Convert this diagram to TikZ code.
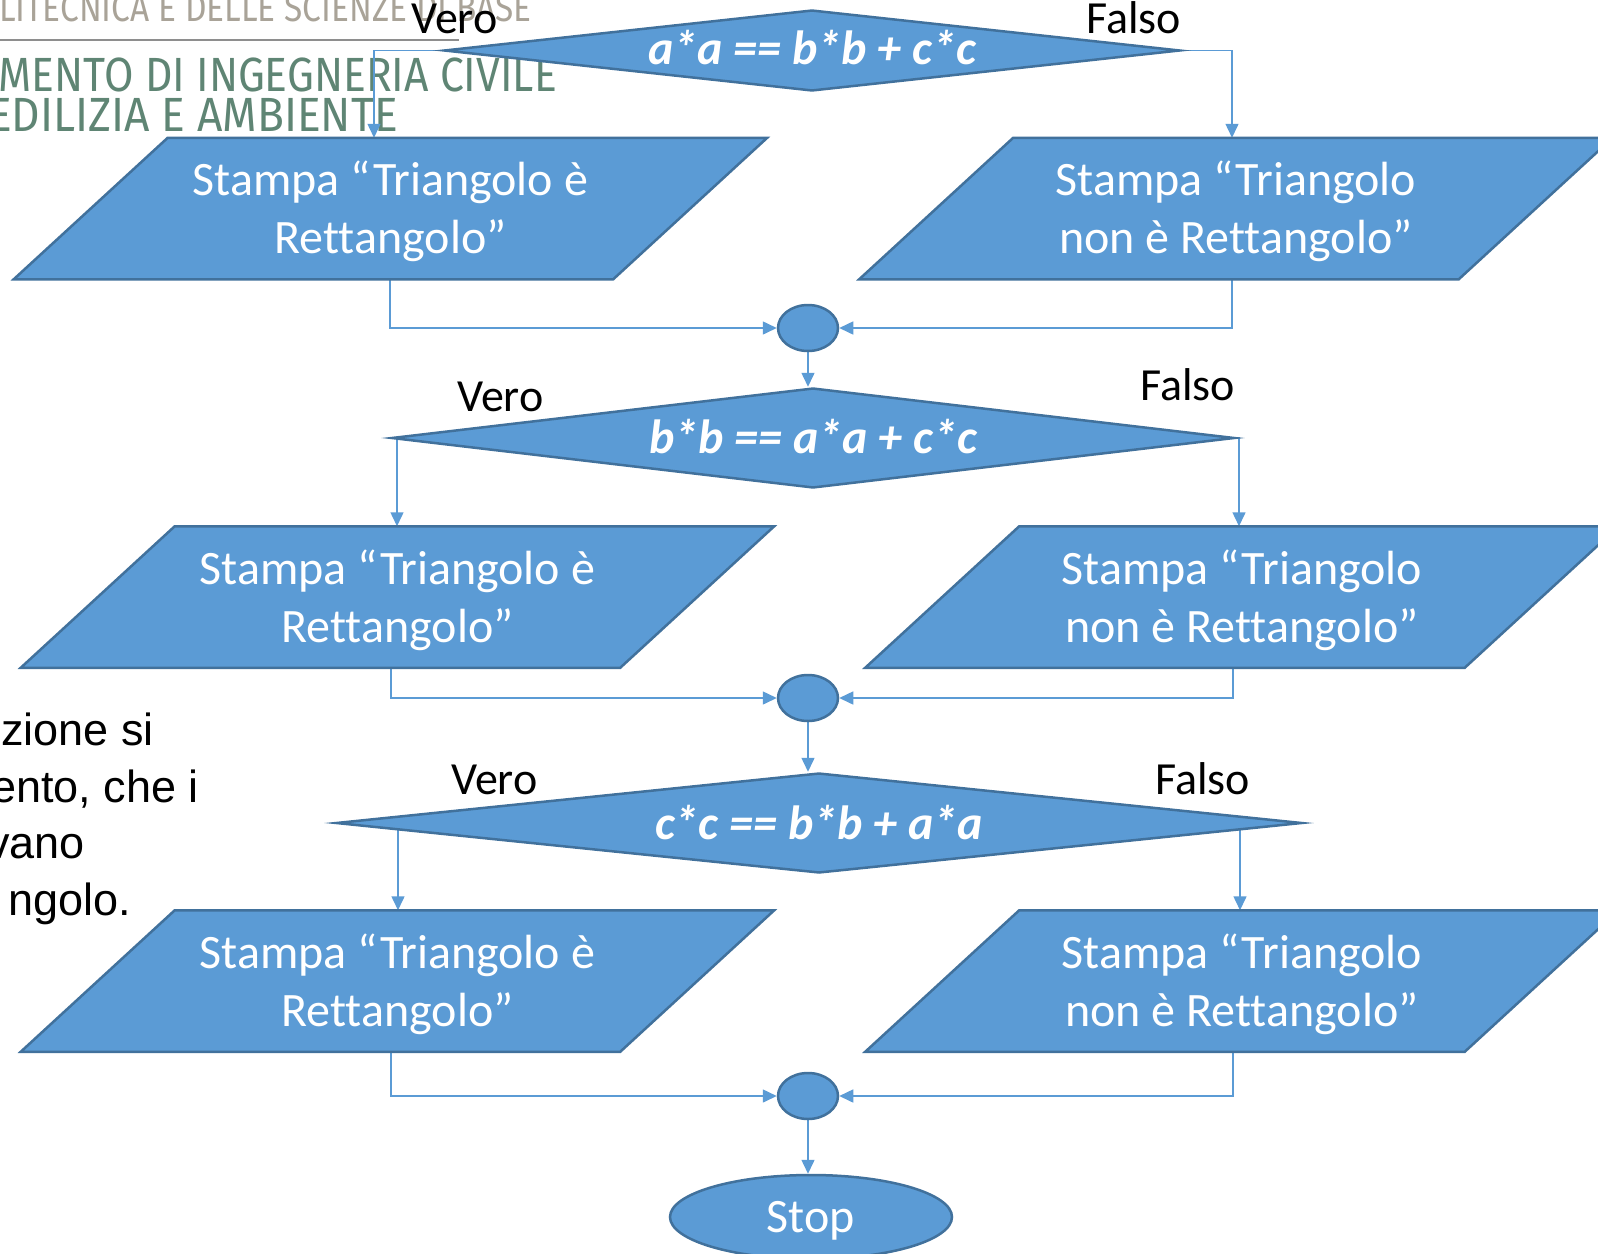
\documentclass[tikz,border=0pt]{standalone}
\usepackage{fontspec}
\usepackage{graphicx}
\setmainfont{Carlito}[Ligatures=NoCommon]
\newfontfamily\arialf{Liberation Sans}
\newfontfamily\headf{Fira Sans}
\usetikzlibrary{shapes.geometric,arrows.meta}
\definecolor{boxfill}{HTML}{5B9BD5}
\definecolor{boxline}{HTML}{41719C}
\definecolor{wire}{HTML}{5B9BD5}
\definecolor{hdrbeige}{HTML}{A9A398}
\definecolor{hdrgreen}{HTML}{5F8574}
\definecolor{hdrrule}{HTML}{8E8E8E}
\pgfdeclarelayer{background}
\pgfdeclarelayer{shapes}
\pgfsetlayers{background,shapes,main}
\newlength\hdrwidth
% slanted input/output box: bounding node #1, horizontal slant 154pt
\newcommand\iopath[1]{%
  \begin{pgfonlayer}{shapes}
    \draw[shapebase] (#1.south west) -- ([xshift=-154pt]#1.south east)
      -- (#1.north east) -- ([xshift=154pt]#1.north west) -- cycle;
  \end{pgfonlayer}}
\begin{document}
\settowidth\hdrwidth{\headf\fontsize{48}{48}\selectfont MENTO DI INGEGNERIA CIVILE}
\pgfmathsetmacro\hdrsx{558/\hdrwidth}
\pgfmathsetmacro\hdrsxA{0.965*\hdrsx}
\pgfmathsetmacro\hdrsxC{1.04*\hdrsx}
\begin{tikzpicture}[x=1pt,y=-1pt,
  shapebase/.style={draw=boxline, fill=boxfill, line width=2.5pt, inner sep=0pt,
    line join=miter},
  iobox/.style={rectangle, inner sep=0pt, outer sep=1.25pt,
    minimum width=751pt, minimum height=139pt},
  iotext/.style={text=white, align=center, inner sep=0pt,
    font=\fontsize{48}{58}\selectfont},
  decision/.style={shapebase, diamond},
  condtext/.style={text=white, inner sep=0pt, anchor=base,
    font=\fontsize{48}{58}\selectfont\bfseries\itshape},
  joint/.style={shapebase, ellipse, minimum width=60pt, minimum height=46pt},
  terminal/.style={shapebase, ellipse, minimum width=282pt, minimum height=84pt,
    text=white, text depth=0pt, font=\fontsize{48}{58}\selectfont},
  branch/.style={inner sep=0pt, anchor=base west, font=\fontsize{46}{55}\selectfont},
  bodytext/.style={inner sep=0pt, anchor=base east, font=\arialf\fontsize{45}{57}\selectfont},
  flow/.style={draw=wire, line width=1.5pt, -{Triangle[length=14pt,width=13pt]}},
]
\path[use as bounding box] (0,0) rectangle (1598,1253);

% page background and header
\begin{pgfonlayer}{background}
  \clip (0,0) rectangle (1598,1253);
  \fill[white] (0,0) rectangle (1598,1253);
  \node[inner sep=0pt, anchor=base east, text=hdrbeige] (hdrA) at (532,21)
    {\scalebox{\hdrsxA}[1]{\headf\fontsize{39}{39}\selectfont LITECNICA E DELLE SCIENZE DI BASE}};
  \coordinate (ruleL) at (0,40);
  \coordinate (ruleR) at (459,40);
  \draw[hdrrule, line width=1.6pt] (ruleL) -- (ruleR);
  \node[inner sep=0pt, anchor=base east, text=hdrgreen] (hdrB) at (557,91)
    {\scalebox{\hdrsx}[1]{\headf\fontsize{48}{48}\selectfont MENTO DI INGEGNERIA CIVILE}};
  \node[inner sep=0pt, anchor=base east, text=hdrgreen] (hdrC) at (398,131)
    {\scalebox{\hdrsxC}[1]{\headf\fontsize{48}{48}\selectfont EDILIZIA E AMBIENTE}};
\end{pgfonlayer}

% side text
\node[bodytext] (txA) at (154,745) {zione si};
\node[bodytext] (txB) at (199,802) {ento, che i};
\node[bodytext] (txC) at (85,858) {vano};
\node[bodytext] (txD) at (131,915) {ngolo.};

% first test
\node[decision, minimum width=736pt, minimum height=81pt] (D1) at (812,50.5) {};
\node[condtext, yshift=-14pt] (D1t) at (D1.center) {a*a == b*b + c*c};
\node[branch] (v1) at (411,33) {Vero};
\node[branch] (f1) at (1086,33) {Falso};
\node[iobox] (L1) at (390.5,208.5) {};
\node[iobox] (R1) at (1236,208.5) {};
\iopath{L1}
\iopath{R1}
\node[iotext, yshift=-3pt] (L1t) at (L1.center) {Stampa “Triangolo è\\Rettangolo”};
\node[iotext, yshift=-3pt] (R1t) at (R1.center) {Stampa “Triangolo\\non è Rettangolo”};
\node[joint] (C1) at (808,328) {};

% second test
\node[decision, minimum width=843pt, minimum height=100pt] (D2) at (813,438) {};
\node[condtext, yshift=-15pt] (D2t) at (D2.center) {b*b == a*a + c*c};
\node[branch] (v2) at (457,411) {Vero};
\node[branch] (f2) at (1140,400) {Falso};
\node[iobox] (L2) at (397.5,597) {};
\node[iobox] (R2) at (1242,597) {};
\iopath{L2}
\iopath{R2}
\node[iotext, yshift=-3pt] (L2t) at (L2.center) {Stampa “Triangolo è\\Rettangolo”};
\node[iotext, yshift=-3pt] (R2t) at (R2.center) {Stampa “Triangolo\\non è Rettangolo”};
\node[joint] (C2) at (808,698) {};

% third test
\node[decision, minimum width=966pt, minimum height=100pt] (D3) at (819,823) {};
\node[condtext, yshift=-16pt] (D3t) at (D3.center) {c*c == b*b + a*a};
\node[branch] (v3) at (451,794) {Vero};
\node[branch] (f3) at (1155,794) {Falso};
\node[iobox] (L3) at (397.5,981) {};
\node[iobox] (R3) at (1242,981) {};
\iopath{L3}
\iopath{R3}
\node[iotext, yshift=-3pt] (L3t) at (L3.center) {Stampa “Triangolo è\\Rettangolo”};
\node[iotext, yshift=-3pt] (R3t) at (R3.center) {Stampa “Triangolo\\non è Rettangolo”};
\node[joint] (C3) at (808,1096) {};

\node[terminal] (Stop) at (811,1217) {Stop};

% connector columns
\coordinate (inL1) at (374,0);
\coordinate (inR1) at (1232,0);
\coordinate (outL1) at (390,0);
\coordinate (outR1) at (1232,0);
\coordinate (inL2) at (397,0);
\coordinate (inR2) at (1239,0);
\coordinate (outL2) at (391,0);
\coordinate (outR2) at (1233,0);
\coordinate (inL3) at (398,0);
\coordinate (inR3) at (1240,0);
\coordinate (outL3) at (391,0);
\coordinate (outR3) at (1233,0);

\begin{pgfonlayer}{background}
  \clip (0,0) rectangle (1598,1253);
  \draw[flow] (D1.west) -| (inL1 |- L1.north);
  \draw[flow] (D1.east) -| (inR1 |- R1.north);
  \draw[flow] (outL1 |- L1.south) |- (C1.west);
  \draw[flow] (outR1 |- R1.south) |- (C1.east);
  \draw[flow] (C1.south) -- (C1.south |- D2.north);

  \draw[flow] (D2.west) -| (inL2 |- L2.north);
  \draw[flow] (D2.east) -| (inR2 |- R2.north);
  \draw[flow] (outL2 |- L2.south) |- (C2.west);
  \draw[flow] (outR2 |- R2.south) |- (C2.east);
  \draw[flow] (C2.south) -- (C2.south |- D3.north);

  \draw[flow] (D3.west) -| (inL3 |- L3.north);
  \draw[flow] (D3.east) -| (inR3 |- R3.north);
  \draw[flow] (outL3 |- L3.south) |- (C3.west);
  \draw[flow] (outR3 |- R3.south) |- (C3.east);
  \draw[flow] (C3.south) -- (C3.south |- Stop.north);
\end{pgfonlayer}
\end{tikzpicture}
\end{document}
